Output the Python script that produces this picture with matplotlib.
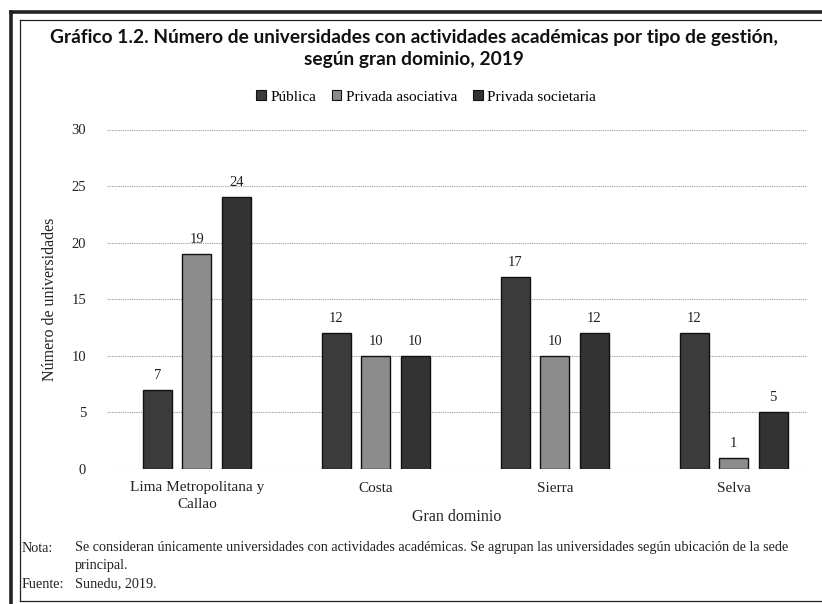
import numpy as np
import matplotlib
matplotlib.use('Agg')
import matplotlib.pyplot as plt
from matplotlib.lines import Line2D
from matplotlib.patches import Patch

# data
categories = ['Lima Metropolitana y\nCallao', 'Costa', 'Sierra', 'Selva']
series_names = ['Pública', 'Privada asociativa', 'Privada societaria']
publica = [7, 12, 17, 12]
privada_asociativa = [19, 10, 10, 1]
privada_societaria = [24, 10, 12, 5]
y_ticks = [0, 5, 10, 15, 20, 25, 30]

colors = ['#3b3b3b', '#8c8c8c', '#333333']
serif = 'Liberation Serif'

fig = plt.figure(figsize=(8.22, 6.04), dpi=100)
W, H = 822, 604

def px(x, y):
    return x / W, 1 - y / H

# outer thick frame + inner thin frame
for xs, ys, lw in [([11, 11], [12, 604], 2.6), ([11, 822], [12, 12], 2.6),
                   ([19.5, 19.5], [20, 601], 0.9), ([19.5, 822], [20, 20], 0.9),
                   ([19.5, 822], [601, 601], 0.9)]:
    fig.add_artist(Line2D([x / W for x in xs], [1 - y / H for y in ys],
                          color='#222222', lw=lw, transform=fig.transFigure))

# title
title_kw = dict(ha='center', va='center', fontsize=13.8, fontweight='bold', family='Lato', color='#111111')
fig.text(*px(414, 38), 'Gráfico 1.2. Número de universidades con actividades académicas por tipo de gestión,', **title_kw)
fig.text(*px(414, 59), 'según gran dominio, 2019', **title_kw)

ax = fig.add_axes([107 / W, 1 - 469 / H, 700 / W, (469 - 129.5) / H])

x = np.arange(len(categories))
width = 0.162
step = 0.22
all_vals = [publica, privada_asociativa, privada_societaria]
for i, (vals, col) in enumerate(zip(all_vals, colors)):
    pos = x + (i - 1) * step
    ax.bar(pos, vals, width=width, color=col, edgecolor='#111111', linewidth=1.0, zorder=3)
    for p, v in zip(pos, vals):
        ax.text(p, v + 0.7, str(v), ha='center', va='bottom', fontsize=10.5,
                family=serif, color='#222222')

ax.set_ylim(0, 30)
ax.set_xlim(-0.503, 3.41)
ax.set_yticks(y_ticks)
ax.set_xticks(x)
ax.set_xticklabels(categories, family=serif, fontsize=11, color='#222222', linespacing=1.35)
for lab in ax.get_yticklabels():
    lab.set_family(serif)
    lab.set_fontsize(10.5)
    lab.set_color('#222222')
ax.tick_params(length=0, pad=9)
ax.tick_params(axis='y', pad=15)
ax.grid(axis='y', color='#9a9a9a', linestyle=(0, (1, 1)), linewidth=0.8, zorder=0)
for s in ax.spines.values():
    s.set_visible(False)

ax.set_ylabel('Número de universidades', family=serif, fontsize=11.5, color='#222222')
ax.yaxis.set_label_coords(-0.07, 0.5)
ax.set_xlabel('Gran dominio', family=serif, fontsize=11.5, color='#222222')
ax.xaxis.set_label_coords(0.5, -0.118)

handles = [Patch(facecolor=c, edgecolor='#111111', linewidth=0.8) for c in colors]
fig.legend(handles, series_names, loc='center', bbox_to_anchor=px(426, 97), ncol=3, frameon=False,
           prop={'family': serif, 'size': 11}, handlelength=0.65, handleheight=0.65,
           handletextpad=0.3, columnspacing=1.0)

# notes
note_kw = dict(family=serif, fontsize=10.2, color='#222222', va='center')
fig.text(*px(22, 548), 'Nota:', **note_kw)
fig.text(*px(75, 548), 'Se consideran únicamente universidades con actividades académicas. Se agrupan las universidades según ubicación de la sede', **note_kw)
fig.text(*px(75, 566), 'principal.', **note_kw)
fig.text(*px(22, 584), 'Fuente:', **note_kw)
fig.text(*px(75, 584), 'Sunedu, 2019.', **note_kw)

fig.savefig('out.png', dpi=100)
